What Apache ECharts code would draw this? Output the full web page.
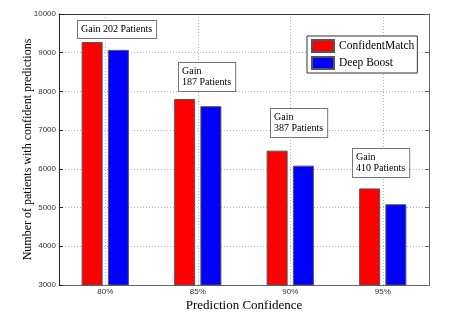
<!DOCTYPE html>
<html>
<head>
<meta charset="utf-8">
<script src="https://cdn.jsdelivr.net/npm/echarts@6/dist/echarts.min.js"></script>
<style>
  html, body { margin: 0; padding: 0; background: #fff; }
  #chart { width: 450px; height: 320px; }
</style>
</head>
<body>
<div id="chart"></div>
<script>
// data
var categories = ["80%", "85%", "90%", "95%"];
var confidentMatch = [9275, 7805, 6470, 5495];
var deepBoost = [9073, 7618, 6083, 5085];
var yMin = 3000, yMax = 10000, yStep = 1000;

// the "Gain" note boxes
var gainTexts = ["Gain 202 Patients", "Gain\n187 Patients", "Gain\n387 Patients", "Gain\n410 Patients"];
var gainTops = [9827, 8742, 7545, 6504];   // top edge of each box, in y units
var gainShift = [-27, -19, -19, -30];      // px from the category centre

var serif = '"Liberation Serif", "DejaVu Serif", serif';
var sans = '"Liberation Sans", Arial, sans-serif';

var myChart = echarts.init(document.getElementById("chart"));

var dotted = { show: true, lineStyle: { color: "#b0b0b0", type: [1, 2], width: 1 } };

myChart.setOption({
  animation: false,
  backgroundColor: "#fff",
  grid: { left: 59, right: 21, top: 14, bottom: 35, outerBoundsMode: "none" },
  legend: {
    orient: "vertical",
    left: 307,
    top: 36,
    padding: [3, 3, 3, 4],
    icon: "rect",
    itemWidth: 22,
    itemHeight: 12,
    itemGap: 3,
    borderColor: "#333",
    borderWidth: 1,
    backgroundColor: "#fff",
    textStyle: { fontFamily: serif, fontSize: 11.5, color: "#000" },
    data: ["ConfidentMatch", "Deep Boost"],
  },
  xAxis: [
    {
      type: "category",
      data: categories,
      name: "Prediction Confidence",
      nameLocation: "middle",
      nameGap: 14,
      nameMoveOverlap: false,
      nameTextStyle: { fontFamily: serif, fontSize: 13, color: "#000" },
      axisLine: { lineStyle: { color: "#666", width: 1 } },
      axisTick: { alignWithLabel: true, inside: true, length: 4, lineStyle: { color: "#666" } },
      axisLabel: { fontFamily: sans, fontSize: 8, color: "#333", margin: 3 },
      splitLine: Object.assign({ alignWithLabel: true }, dotted),
    },
    {
      type: "category",
      data: categories,
      position: "top",
      axisLine: { lineStyle: { color: "#333", width: 1 } },
      axisTick: { alignWithLabel: true, inside: true, length: 4, lineStyle: { color: "#333" } },
      axisLabel: { show: false },
      splitLine: { show: false },
    },
  ],
  yAxis: [
    {
      type: "value",
      min: yMin,
      max: yMax,
      interval: yStep,
      name: "Number of patients with confident predictions",
      nameLocation: "middle",
      nameGap: 25,
      nameMoveOverlap: false,
      nameTextStyle: { fontFamily: serif, fontSize: 12, color: "#000" },
      axisLine: { show: true, lineStyle: { color: "#222", width: 1 } },
      axisTick: { show: true, inside: true, length: 4, lineStyle: { color: "#222" } },
      axisLabel: { fontFamily: sans, fontSize: 8, color: "#333", margin: 3, formatter: function (v) { return String(v); } },
      splitLine: dotted,
    },
    {
      type: "value",
      min: yMin,
      max: yMax,
      interval: yStep,
      position: "right",
      axisLine: { show: true, lineStyle: { color: "#666", width: 1 } },
      axisTick: { show: true, inside: true, length: 4, lineStyle: { color: "#666" } },
      axisLabel: { show: false },
      splitLine: { show: false },
    },
  ],
  series: [
    {
      name: "ConfidentMatch",
      type: "bar",
      data: confidentMatch,
      barWidth: 21,
      barGap: "25%",
      itemStyle: { color: "#ff0000", borderColor: "#555", borderWidth: 1 },
    },
    {
      name: "Deep Boost",
      type: "bar",
      data: deepBoost,
      barWidth: 21,
      barGap: "25%",
      itemStyle: { color: "#0000ff", borderColor: "#555", borderWidth: 1 },
    },
  ],
});

// place the note boxes through the axes
var notes = [];
for (var i = 0; i < gainTexts.length; i++) {
  var p = myChart.convertToPixel({ xAxisIndex: 0, yAxisIndex: 0 }, [categories[i], gainTops[i]]);
  notes.push({
    type: "text",
    x: Math.round(p[0] + gainShift[i]),
    y: Math.round(p[1]),
    z: 100,
    style: {
      text: gainTexts[i],
      font: "10px " + serif,
      fill: "#000",
      lineHeight: 11,
      backgroundColor: "#fff",
      borderColor: "#777",
      borderWidth: 1,
      padding: [3, 4, 3, 3],
    },
  });
}
myChart.setOption({ graphic: notes });
</script>
</body>
</html>
